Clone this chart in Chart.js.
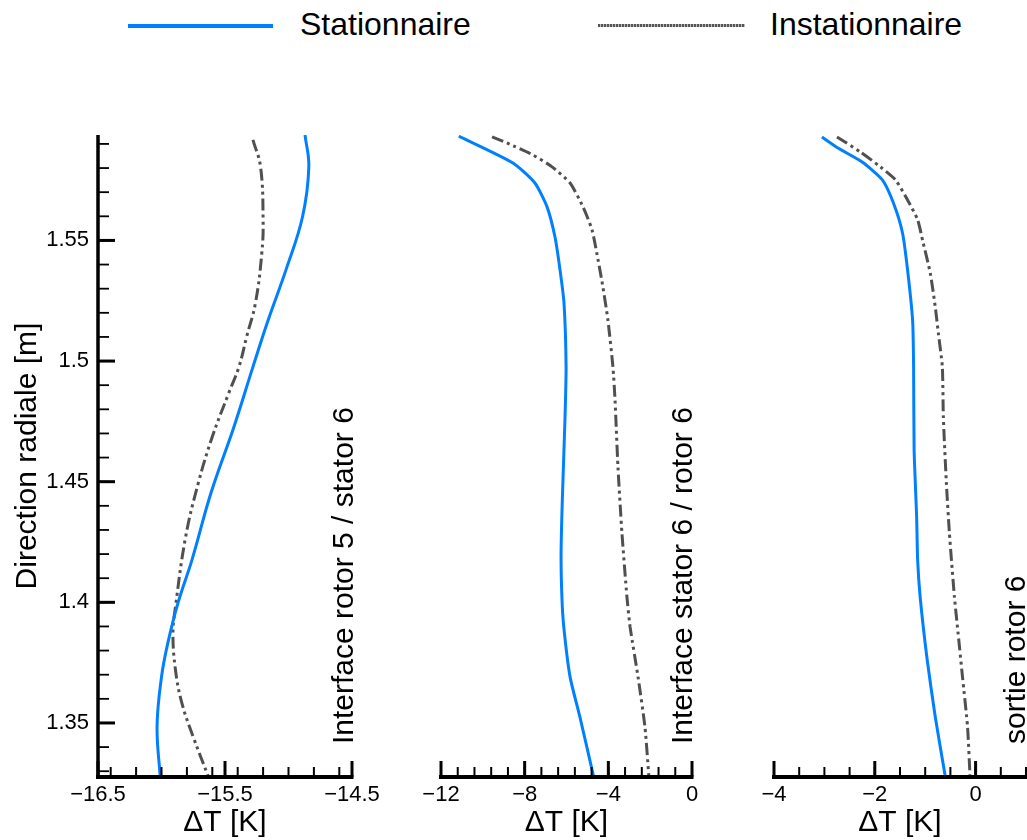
<!DOCTYPE html>
<html>
<head>
<meta charset="utf-8">
<script src="https://cdn.jsdelivr.net/npm/chart.js@4/dist/chart.umd.min.js"></script>
<style>
  body { margin: 0; background: #fff; }
  #wrap { position: relative; width: 1027px; height: 840px; font-family: "Liberation Sans", Arial, sans-serif; }
  canvas { position: absolute; top: 0; }
  .legtxt { position: absolute; font-size: 32px; line-height: 32px; color: #000; white-space: nowrap; }
  .legline { position: absolute; }
</style>
</head>
<body>
<div id="wrap">
  <div class="legline" style="left:128px;top:24px;width:145px;height:4px;background:#0080ff"></div>
  <div class="legtxt" style="left:300px;top:8px">Stationnaire</div>
  <div class="legline" style="left:598px;top:24px;width:147px;height:3px;background:repeating-linear-gradient(90deg,#555 0 2px,#bbb 2px 3px)"></div>
  <div class="legtxt" style="left:770px;top:8px">Instationnaire</div>
  <canvas id="c1" width="400" height="840" style="left:0"></canvas>
  <canvas id="c2" width="340" height="840" style="left:400px"></canvas>
  <canvas id="c3" width="287" height="840" style="left:740px"></canvas>
</div>
<script>
// axe radial commun
const radMin = 1.3276, radMax = 1.5937;
const radTicks = [1.35, 1.4, 1.45, 1.5, 1.55];

// panneau 1 : interface rotor 5 / stator 6
const rStat1 = [1.5937, 1.5805, 1.5597, 1.5378, 1.5170, 1.4976, 1.4727, 1.4454, 1.4176, 1.3998, 1.3832, 1.3691, 1.3484, 1.3276];
const dtStat1 = [-14.87, -14.84, -14.89, -15.02, -15.16, -15.28, -15.43, -15.61, -15.76, -15.87, -15.95, -16.00, -16.035, -16.01];
const rInst1 = [1.5917, 1.5805, 1.5585, 1.5448, 1.5241, 1.5100, 1.4976, 1.4868, 1.4686, 1.4495, 1.4271, 1.3981, 1.3873, 1.3720, 1.3583, 1.3442, 1.3276];
const dtInst1 = [-15.28, -15.22, -15.20, -15.21, -15.26, -15.33, -15.39, -15.47, -15.60, -15.71, -15.81, -15.89, -15.91, -15.89, -15.84, -15.75, -15.63];
const x1Ticks = [-16.5, -15.5, -14.5];

// panneau 2 : interface stator 6 / rotor 6
const rStat2 = [1.5932, 1.5821, 1.5738, 1.5639, 1.5514, 1.5378, 1.5241, 1.4976, 1.4768, 1.4424, 1.4200, 1.4022, 1.3898, 1.3691, 1.3525, 1.3276];
const dtStat2 = [-11.15, -8.56, -7.51, -6.93, -6.55, -6.31, -6.12, -6.02, -6.07, -6.20, -6.26, -6.22, -6.13, -5.83, -5.36, -4.70];
const rInst2 = [1.5929, 1.5904, 1.5854, 1.5805, 1.5738, 1.5639, 1.5544, 1.5419, 1.5307, 1.5170, 1.4976, 1.4839, 1.4561, 1.4288, 1.4022, 1.3898, 1.3691, 1.3484, 1.3276];
const dtInst2 = [-9.56, -8.85, -7.60, -6.69, -5.83, -5.21, -4.78, -4.49, -4.26, -4.02, -3.78, -3.68, -3.54, -3.35, -3.11, -2.96, -2.58, -2.25, -2.06];
const x2Ticks = [-12, -8, -4, 0];

// panneau 3 : sortie rotor 6
const rStat3 = [1.5929, 1.5883, 1.5825, 1.5751, 1.5655, 1.5531, 1.5378, 1.5170, 1.4976, 1.4632, 1.4354, 1.4176, 1.4022, 1.3761, 1.3525, 1.3276];
const dtStat3 = [-3.05, -2.73, -2.25, -1.85, -1.63, -1.45, -1.35, -1.25, -1.23, -1.22, -1.17, -1.15, -1.10, -0.96, -0.80, -0.60];
const rInst3 = [1.5929, 1.5867, 1.5805, 1.5751, 1.5668, 1.5585, 1.5490, 1.5365, 1.5224, 1.5117, 1.4976, 1.4768, 1.4495, 1.4288, 1.4022, 1.3898, 1.3691, 1.3484, 1.3276];
const dtInst3 = [-2.75, -2.29, -1.89, -1.59, -1.35, -1.15, -1.04, -0.90, -0.80, -0.74, -0.66, -0.64, -0.58, -0.52, -0.42, -0.36, -0.26, -0.16, -0.11];
const x3Ticks = [-4, -2, 0];

const FONT = '"Liberation Sans", Arial, sans-serif';
const BLUE = '#0080ff';
const GREY = '#505050';

function pts(xs, ys) {
  return xs.map((v, i) => ({ x: v, y: ys[i] }));
}

function minorValues(min, max, step) {
  const out = [];
  const n0 = Math.ceil(min / step - 1e-6), n1 = Math.floor(max / step + 1e-6);
  for (let n = n0; n <= n1; n++) out.push(+(n * step).toFixed(6));
  return out;
}

// vrai signe moins, plus large que le tiret
function fmt(v) {
  return String(v).replace('-', '\u2212');
}

// axes dessinés à la main : traits épais et graduations vers l'intérieur
const axesPlugin = {
  id: 'axes',
  afterDatasetsDraw(chart, args, o) {
    const { ctx, chartArea: a, scales } = chart;
    const xs = scales.x, ys = scales.y;
    ctx.save();
    ctx.strokeStyle = '#000';
    ctx.lineCap = 'butt';

    ctx.lineWidth = 4;
    ctx.beginPath();
    ctx.moveTo(a.left - 2, a.bottom);
    ctx.lineTo(a.right + 1.5, a.bottom);
    ctx.stroke();

    minorValues(xs.min, xs.max, o.xMinor).forEach(v => {
      const p = xs.getPixelForValue(v);
      ctx.lineWidth = 2;
      ctx.beginPath(); ctx.moveTo(p, a.bottom); ctx.lineTo(p, a.bottom - 10); ctx.stroke();
    });
    o.xTicks.forEach(v => {
      const p = xs.getPixelForValue(v);
      ctx.lineWidth = 3;
      ctx.beginPath(); ctx.moveTo(p, a.bottom); ctx.lineTo(p, a.bottom - 16); ctx.stroke();
    });

    if (o.yAxis) {
      ctx.lineWidth = 3.5;
      ctx.beginPath();
      ctx.moveTo(a.left, a.top);
      ctx.lineTo(a.left, a.bottom + 2);
      ctx.stroke();
      minorValues(ys.min, ys.max, 0.01).forEach(v => {
        const p = ys.getPixelForValue(v);
        ctx.lineWidth = 1.8;
        ctx.beginPath(); ctx.moveTo(a.left, p); ctx.lineTo(a.left + 11, p); ctx.stroke();
      });
      radTicks.forEach(v => {
        const p = ys.getPixelForValue(v);
        ctx.lineWidth = 3;
        ctx.beginPath(); ctx.moveTo(a.left, p); ctx.lineTo(a.left + 17, p); ctx.stroke();
      });
    }

    ctx.fillStyle = '#000';
    ctx.font = '30px ' + FONT;
    ctx.textAlign = 'left';
    ctx.textBaseline = 'alphabetic';
    ctx.translate(a.right + o.labelDx, a.bottom - 33);
    ctx.rotate(-Math.PI / 2);
    ctx.fillText(o.label, 0, 0);
    ctx.restore();
  }
};

function makePanel(id, cfg) {
  return new Chart(document.getElementById(id).getContext('2d'), {
    type: 'scatter',
    data: {
      datasets: [
        {
          label: 'Stationnaire',
          data: pts(cfg.dtStat, cfg.rStat),
          showLine: true,
          borderColor: BLUE,
          borderWidth: 3,
          pointRadius: 0,
          tension: cfg.tension
        },
        {
          label: 'Instationnaire',
          data: pts(cfg.dtInst, cfg.rInst),
          showLine: true,
          borderColor: GREY,
          borderWidth: 3,
          borderDash: [12, 4, 3, 4, 3, 4],
          pointRadius: 0,
          tension: cfg.tension
        }
      ]
    },
    options: {
      responsive: false,
      animation: false,
      layout: { padding: cfg.padding },
      plugins: {
        legend: { display: false },
        tooltip: { enabled: false },
        axes: {
          xTicks: cfg.xTicks,
          xMinor: cfg.xMinor,
          yAxis: cfg.yAxis,
          label: cfg.label,
          labelDx: cfg.labelDx
        }
      },
      scales: {
        x: {
          type: 'linear',
          min: cfg.xMin,
          max: cfg.xMax,
          grid: { display: false, drawTicks: false },
          border: { display: false },
          afterBuildTicks: s => { s.ticks = cfg.xTicks.map(v => ({ value: v })); },
          afterFit: s => { s.height = 63; },
          ticks: {
            padding: 5,
            color: '#000',
            font: { family: FONT, size: 22 },
            callback: v => fmt(v)
          },
          title: {
            display: true,
            text: 'ΔT [K]',
            color: '#000',
            font: { family: FONT, size: 30, lineHeight: 1 },
            padding: { top: 0, bottom: 2 }
          }
        },
        y: {
          type: 'linear',
          display: cfg.yAxis,
          min: radMin,
          max: radMax,
          grid: { display: false, drawTicks: false },
          border: { display: false },
          afterBuildTicks: s => { s.ticks = radTicks.map(v => ({ value: v })); },
          afterFit: s => { s.width = cfg.yAxis ? 98 : 0; },
          ticks: {
            padding: 9,
            color: '#000',
            font: { family: FONT, size: 22 },
            callback: v => fmt(v)
          },
          title: {
            display: true,
            text: 'Direction radiale [m]',
            color: '#000',
            font: { family: FONT, size: 30, lineHeight: 1 },
            padding: { top: 13, bottom: 0 }
          }
        }
      }
    },
    plugins: [axesPlugin]
  });
}

makePanel('c1', {
  rStat: rStat1, dtStat: dtStat1, rInst: rInst1, dtInst: dtInst1,
  xMin: -16.5, xMax: -14.5, xTicks: x1Ticks, xMinor: 0.2,
  yAxis: true, tension: 0.4,
  padding: { left: 0, right: 48, top: 135, bottom: 0 },
  label: 'Interface rotor 5 / stator 6', labelDx: 1
});

makePanel('c2', {
  rStat: rStat2, dtStat: dtStat2, rInst: rInst2, dtInst: dtInst2,
  xMin: -12, xMax: 0, xTicks: x2Ticks, xMinor: 0.8,
  yAxis: false, tension: 0.2,
  padding: { left: 41, right: 48, top: 135, bottom: 0 },
  label: 'Interface stator 6 / rotor 6', labelDx: 0
});

makePanel('c3', {
  rStat: rStat3, dtStat: dtStat3, rInst: rInst3, dtInst: dtInst3,
  xMin: -4, xMax: 1, xTicks: x3Ticks, xMinor: 0.5,
  yAxis: false, tension: 0.2,
  padding: { left: 34, right: 1, top: 135, bottom: 0 },
  label: 'sortie rotor 6', labelDx: -1
});
</script>
</body>
</html>
